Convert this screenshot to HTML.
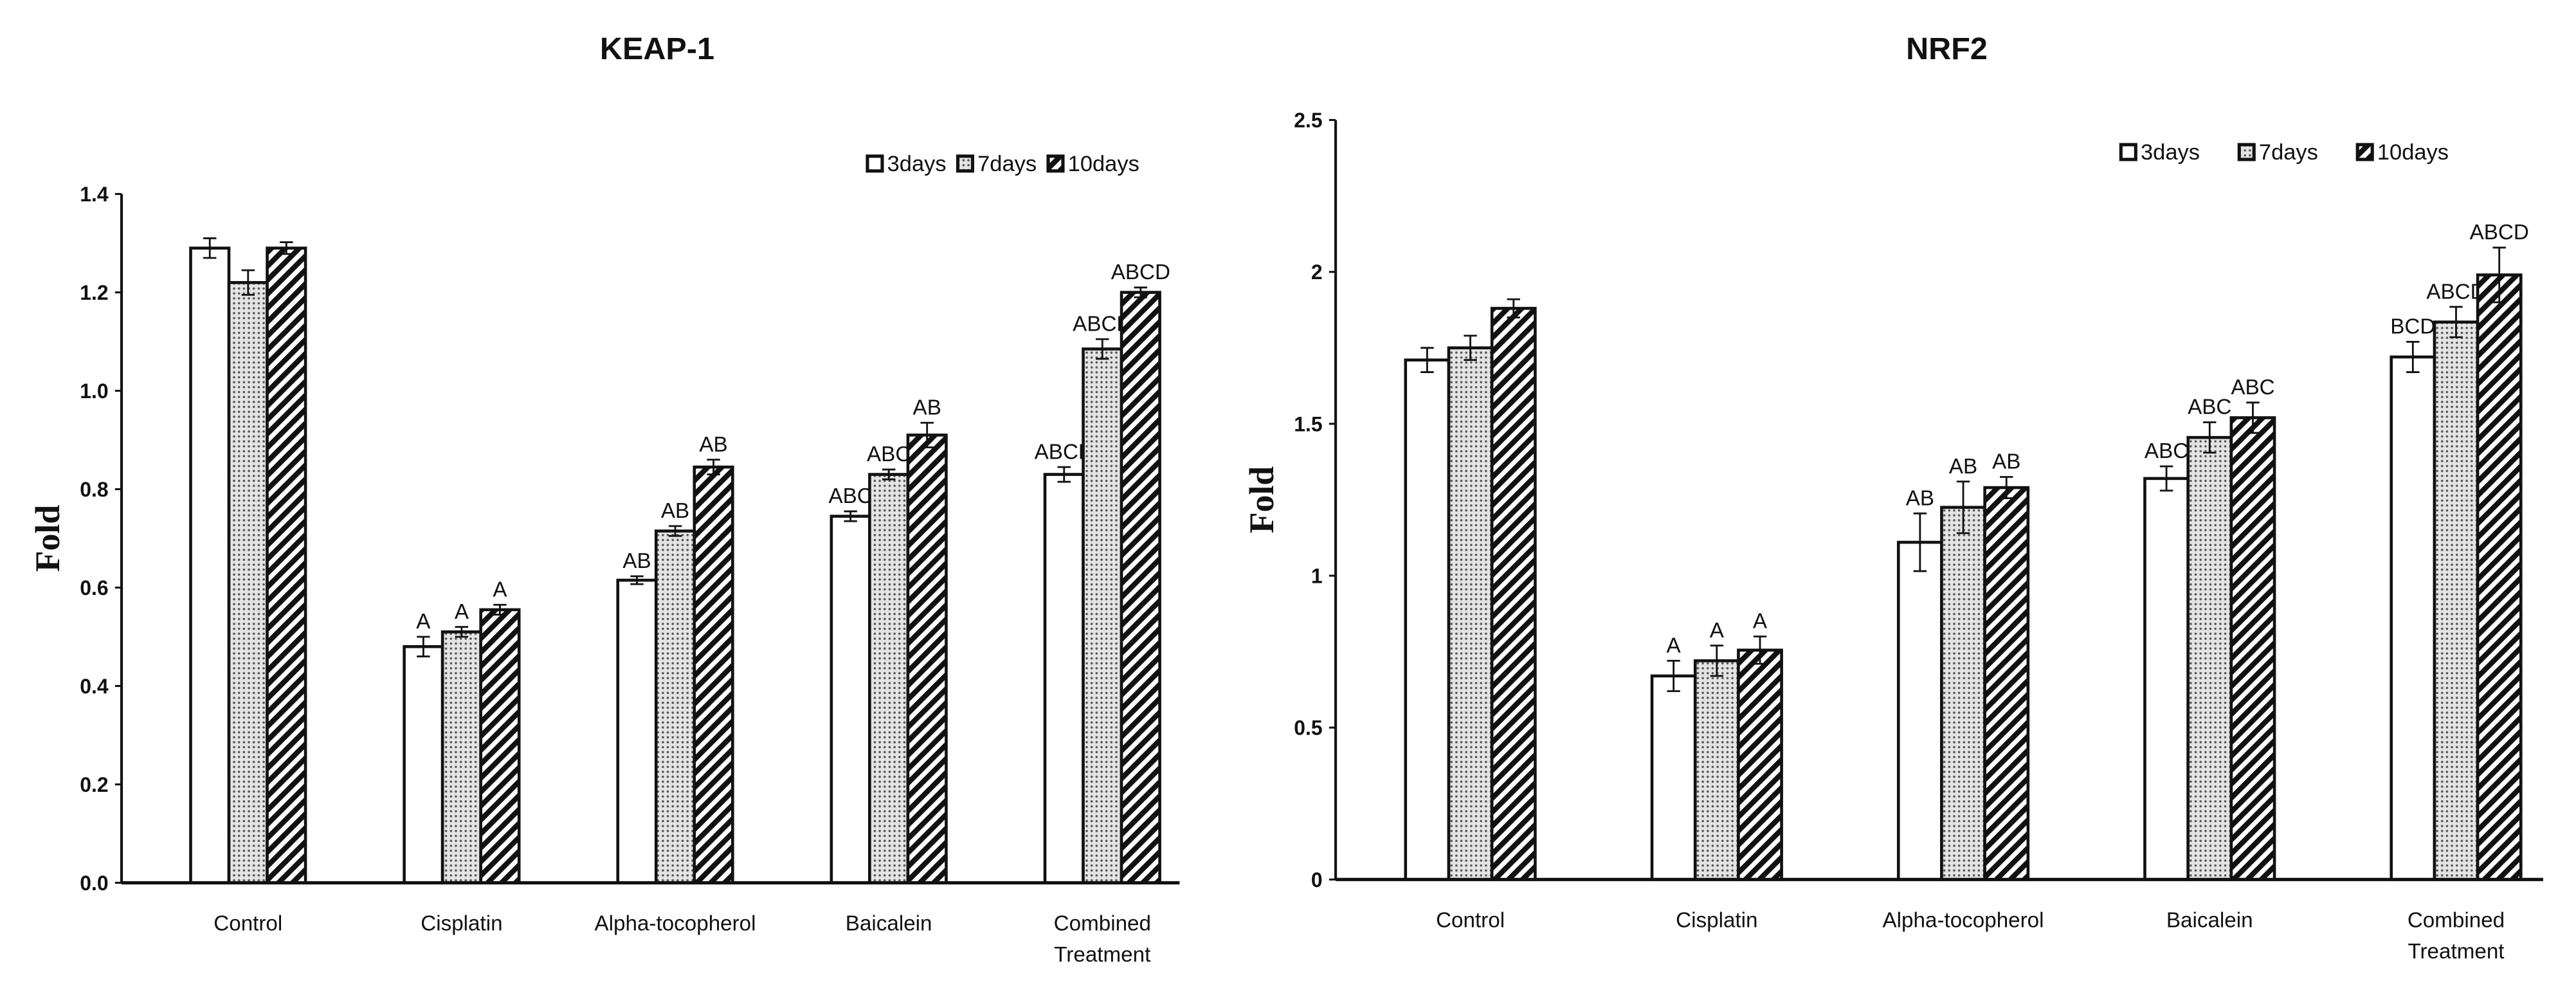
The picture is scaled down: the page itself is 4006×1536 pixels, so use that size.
<!DOCTYPE html>
<html><head><meta charset="utf-8"><style>
html,body{margin:0;padding:0;background:#fff;}
svg{display:block;}
text{font-family:"Liberation Sans",sans-serif;fill:#111;}
</style></head>
<body>
<svg id="fig" width="4006" height="1536" viewBox="0 0 1568 601" preserveAspectRatio="none" xmlns="http://www.w3.org/2000/svg">
<defs>
<pattern id="dots" patternUnits="userSpaceOnUse" width="3" height="3">
<rect width="3" height="3" fill="#e4e4e4"/>
<circle cx="1.5" cy="1.5" r="0.7" fill="#555"/>
</pattern>
<pattern id="stripes" patternUnits="userSpaceOnUse" width="6" height="6" patternTransform="rotate(45)">
<rect width="6" height="6" fill="#fff"/>
<rect width="3.2" height="6" fill="#111"/>
</pattern>
</defs>
</svg>
<script>
const categories = ["Control","Cisplatin","Alpha-tocopherol","Baicalein","Combined Treatment"];
const seriesNames = ["3days","7days","10days"];
const keapD3 = [1.29,0.48,0.615,0.745,0.83];
const keapD7 = [1.22,0.51,0.715,0.83,1.085];
const keapD10 = [1.29,0.555,0.845,0.91,1.20];
const keapE3 = [0.02,0.02,0.008,0.01,0.015];
const keapE7 = [0.025,0.01,0.01,0.01,0.02];
const keapE10 = [0.012,0.01,0.015,0.025,0.01];
const keapL3 = ["","A","AB","ABC","ABCD"];
const keapL7 = ["","A","AB","ABC","ABCD"];
const keapL10 = ["","A","AB","AB","ABCD"];
const keapTicks = [0,0.2,0.4,0.6,0.8,1.0,1.2,1.4];
const nrfD3 = [1.71,0.67,1.11,1.32,1.72];
const nrfD7 = [1.75,0.72,1.225,1.455,1.835];
const nrfD10 = [1.88,0.755,1.29,1.52,1.99];
const nrfE3 = [0.04,0.05,0.095,0.04,0.05];
const nrfE7 = [0.04,0.05,0.085,0.05,0.05];
const nrfE10 = [0.03,0.045,0.035,0.05,0.09];
const nrfL3 = ["","A","AB","ABC","BCD"];
const nrfL7 = ["","A","AB","ABC","ABCD"];
const nrfL10 = ["","A","AB","ABC","ABCD"];
const nrfTicks = [0,0.5,1,1.5,2,2.5];

const NS="http://www.w3.org/2000/svg";
const svg=document.getElementById('fig');
function mk(tag,attrs,parent){const e=document.createElementNS(NS,tag);for(const k in attrs)e.setAttribute(k,attrs[k]);(parent||svg).appendChild(e);return e;}
const fills=["#fff","url(#dots)","url(#stripes)"];

function drawChart(cfg){
  const g=mk('g',{});
  
  
  const y=v=>cfg.y0-(v/cfg.ymax)*(cfg.y0-cfg.yTop);
  const gx=i=>cfg.x0+cfg.firstC+i*cfg.step;
  const t=mk('text',{x:cfg.titleX,y:36,'text-anchor':'middle','font-size':19,'font-weight':'bold'},g);
  t.textContent=cfg.title;
  
  
  const fl=mk('text',{x:0,y:0,transform:`translate(${cfg.x0-38},${(cfg.y0+cfg.yTop)/2}) rotate(-90)`,'text-anchor':'middle',style:'font-family:"Liberation Serif",serif;font-size:21px;font-weight:bold'},g);
  fl.textContent='Fold';
  
  
  cfg.ticks.forEach(v=>{
    const tl=mk('text',{x:cfg.x0-8,y:y(v)+4.5,'text-anchor':'end','font-size':12.5,'font-weight':'bold'},g);
    tl.textContent=cfg.fmt(v);
    
    
    mk('line',{x1:cfg.x0-4,x2:cfg.x0,y1:y(v),y2:y(v),stroke:'#111','stroke-width':1.2},g);
  });
  const data=[cfg.d3,cfg.d7,cfg.d10], errs=[cfg.e3,cfg.e7,cfg.e10], labs=[cfg.l3,cfg.l7,cfg.l10];
  categories.forEach((c,i)=>{
    const cx=gx(i);
    for(let s=0;s<3;s++){
      const bx=cx-1.5*cfg.bw+s*cfg.bw, v=data[s][i];
      const r=mk('rect',{x:bx,y:y(v),width:cfg.bw,height:cfg.y0-y(v),fill:fills[s],stroke:'#111','stroke-width':1.8},g);
      
      
      const mx=bx+cfg.bw/2, e=errs[s][i];
      mk('path',{d:`M${mx},${y(v+e)}V${y(v-e)}M${mx-4},${y(v+e)}H${mx+4}M${mx-4},${y(v-e)}H${mx+4}`,stroke:'#111','stroke-width':1.1,fill:'none'},g);
      if(labs[s][i]){
        const lt=mk('text',{x:mx,y:y(v+e)-cfg.labGap,'text-anchor':'middle','font-size':13},g);
        lt.textContent=labs[s][i];
        
        
      }
    }
    const parts=c==="Combined Treatment"?["Combined","Treatment"]:[c];
    parts.forEach((p,k)=>{
      const ct=mk('text',{x:cx,y:cfg.y0+29+k*19,'text-anchor':'middle','font-size':13},g);
      ct.textContent=p;
      
      
    });
  });
  mk('line',{x1:cfg.x0,x2:cfg.x0,y1:cfg.yTop,y2:cfg.y0,stroke:'#111','stroke-width':1.6},g);
  mk('line',{x1:cfg.x0,x2:cfg.xEnd,y1:cfg.y0,y2:cfg.y0,stroke:'#111','stroke-width':2},g);
  let lx=cfg.legX;
  seriesNames.forEach((n,s)=>{
    const lr=mk('rect',{x:lx,y:cfg.legY-9,width:9,height:9,fill:fills[s],stroke:'#111','stroke-width':2},g);
    
    
    const lt=mk('text',{x:lx+12,y:cfg.legY,'font-size':13.5},g);
    lt.textContent=n;
    
    
    lx+=cfg.legStep[s];
  });
}
drawChart({id:'keap1',title:'KEAP-1',titleX:400,x0:74,xEnd:718,y0:537,yTop:118,ymax:1.4,ticks:keapTicks,fmt:v=>v.toFixed(1),
  firstC:77,step:130,bw:23.3,labGap:5,d3:keapD3,d7:keapD7,d10:keapD10,e3:keapE3,e7:keapE7,e10:keapE10,l3:keapL3,l7:keapL7,l10:keapL10,
  legX:528,legY:104,legStep:[55,55,60]});
drawChart({id:'nrf2',title:'NRF2',titleX:1185,x0:813,xEnd:1548,y0:535,yTop:73,ymax:2.5,ticks:nrfTicks,fmt:v=>String(v),
  firstC:82,step:150,bw:26.3,labGap:5,d3:nrfD3,d7:nrfD7,d10:nrfD10,e3:nrfE3,e7:nrfE7,e10:nrfE10,l3:nrfL3,l7:nrfL7,l10:nrfL10,
  legX:1291,legY:97,legStep:[72,72,60]});
</script>
</body></html>
